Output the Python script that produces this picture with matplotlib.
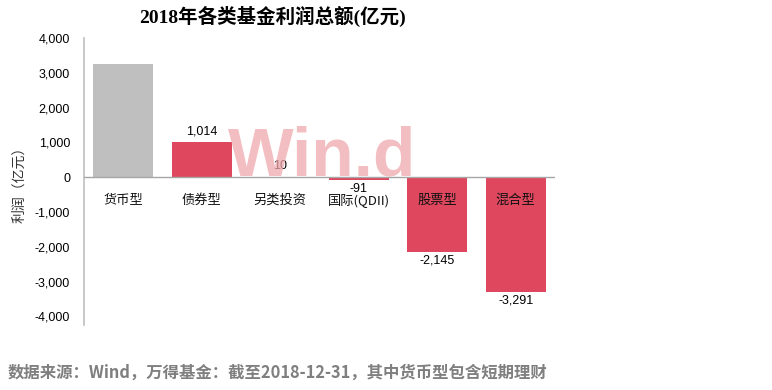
import matplotlib
matplotlib.use("Agg")
import matplotlib.pyplot as plt

categories = ["货币型", "债券型", "另类投资", "国际(QDII)", "股票型", "混合型"]
values = [3240, 1014, 10, -91, -2145, -3291]
labels = [None, "1,014", "10", "-91", "-2,145", "-3,291"]
colors = ["#BFBFBF", "#DE475E", "#DE475E", "#DE475E", "#DE475E", "#DE475E"]
yticks = [-4000, -3000, -2000, -1000, 0, 1000, 2000, 3000, 4000]
ytick_labels = ["-4,000", "-3,000", "-2,000", "-1,000", "0", "1,000", "2,000", "3,000", "4,000"]

CJK = ["Noto Sans CJK SC", "DejaVu Sans"]
plt.rcParams['font.family'] = CJK

fig = plt.figure(figsize=(7.72, 3.9), dpi=100)
ax = fig.add_axes([84/772, 1-325/390, (555-84)/772, (325-38)/390])

x = list(range(len(categories)))
ax.bar(x, values, width=0.76, color=colors, zorder=2)
ax.set_xlim(-0.5, len(categories)-0.5)
ax.set_ylim(-4250, 4000)
ax.set_yticks(yticks)
ax.set_yticklabels(ytick_labels, fontsize=9, family=["Liberation Sans"])
ax.set_xticks([])
ax.tick_params(axis='y', length=0, pad=10)
for s in ["top", "right", "bottom"]:
    ax.spines[s].set_visible(False)
ax.spines["left"].set_color("#BFBFBF")
ax.spines["left"].set_linewidth(1.2)
ax.axhline(0, color="#A6A6A6", lw=1, zorder=3)
ax.set_ylabel("利润（亿元）", fontsize=10, color="#333333", labelpad=6)

for i, (c, v, lab) in enumerate(zip(categories, values, labels)):
    ax.text(i, -480, c, ha="center", va="top", fontsize=9.5, color="#111111", zorder=4,
            family=["Noto Sans CJK SC", "Liberation Sans"])
    if lab is None:
        continue
    if v >= 0:
        ax.text(i, v + 130, lab, ha="center", va="bottom", fontsize=9, family=["Liberation Sans"], zorder=4)
    else:
        ax.text(i, v - 80, lab, ha="center", va="top", fontsize=9, family=["Liberation Sans"], zorder=4)

fig.text(322/772, 1-157/390, "Win.d", ha="center", va="center", fontsize=50,
         fontweight="bold", color="#F0A8AC", alpha=0.75, family=["Liberation Sans"], zorder=1)

fig.text(272/772, 1-16/390, "2018年各类基金利润总额(亿元)", ha="center", va="center",
         fontsize=14, fontweight="bold", family=["Liberation Serif", "Noto Sans CJK SC"])

fig.text(8/772, 1-373/390, "数据来源：Wind，万得基金：截至2018-12-31，其中货币型包含短期理财",
         ha="left", va="center", fontsize=11.8, fontweight="bold", color="#7F7F7F")

fig.savefig("out.png", dpi=100)
